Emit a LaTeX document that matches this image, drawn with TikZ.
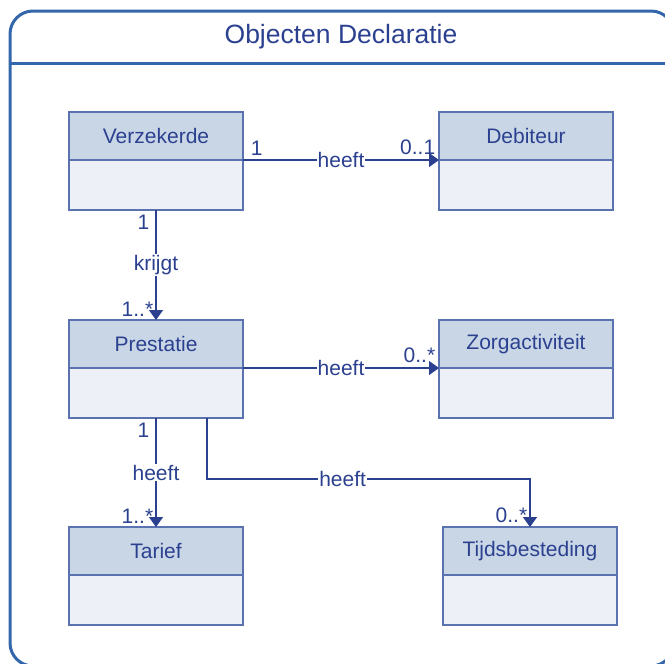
\documentclass[tikz,border=0pt]{standalone}
\usepackage{fontspec}
\setmainfont{Liberation Sans}
\usetikzlibrary{positioning,arrows.meta}
\definecolor{framecol}{HTML}{3366AA}
\definecolor{linecol}{HTML}{2B4190}
\definecolor{boxline}{HTML}{5B72B0}
\definecolor{headfill}{HTML}{C9D6E6}
\definecolor{bodyfill}{HTML}{EDF0F6}
\tikzset{
  classhead/.style={draw=boxline,fill=headfill,line width=1.2pt,rectangle,
    minimum width=174pt,minimum height=48pt,inner sep=0pt,outer sep=0pt,
    text=linecol,font=\fontsize{21}{24}\selectfont},
  classbody/.style={draw=boxline,fill=bodyfill,line width=1.2pt,rectangle,
    minimum width=174pt,minimum height=50pt,inner sep=0pt,outer sep=0pt},
  assoc/.style={draw=linecol,line width=1.6pt,-{Triangle[width=14pt,length=10pt]}},
  lbl/.style={text=linecol,font=\fontsize{21}{24}\selectfont,inner sep=1pt},
}
\begin{document}
\begin{tikzpicture}[x=1pt,y=-1pt]
        \useasboundingbox (0,0) rectangle (665,664);
        \clip (0,0) rectangle (665,664);
        % Frame and title
        \draw[framecol,line width=3pt,rounded corners=23pt] (10,11) rectangle (674,666);
        \draw[framecol,line width=3pt] (10,63) -- (674,63);
        \node[text=linecol,font=\fontsize{26.5}{30}\selectfont] (title) at (341,37) {Objecten Declaratie};
        % Define the nodes
        \node[classhead] (verz)  at (156,136) {Verzekerde};
        \node[classbody,below=0pt of verz] (verzB) {};
        \node[classhead] (deb)   at (526,136) {Debiteur};
        \node[classbody,below=0pt of deb] (debB) {};
        \node[classhead] (prest) at (156,344) {Prestatie};
        \node[classbody,below=0pt of prest] (prestB) {};
        \node[classhead] (zorg)  at (526,344) {Zorgactiviteit};
        \node[classbody,below=0pt of zorg] (zorgB) {};
        \node[classhead] (tar)   at (156,551) {Tarief};
        \node[classbody,below=0pt of tar] (tarB) {};
        \node[classhead] (tijd)  at (530,551) {Tijdsbesteding};
        \node[classbody,below=0pt of tijd] (tijdB) {};
        % Connect the nodes
        \draw[assoc] (verz.south east) -- (deb.south west)
            node[lbl,pos=0,above right=3pt and 6pt] {1}
            node[lbl,midway,fill=white] {heeft}
            node[lbl,pos=1,above left=3pt and 2pt] {0..1};
        \draw[assoc] (verzB.south) -- (prest.north)
            node[lbl,pos=0,below left=3pt and 5pt] {1}
            node[lbl,midway,fill=white] {krijgt}
            node[lbl,pos=1,above left=2pt and 1pt] {1..*};
        \draw[assoc] (prest.south east) -- (zorg.south west)
            node[lbl,midway,fill=white] {heeft}
            node[lbl,pos=1,above left=3pt and 2pt] {0..*};
        \draw[assoc] (prestB.south) -- (tar.north)
            node[lbl,pos=0,below left=3pt and 5pt] {1}
            node[lbl,midway,fill=white] {heeft}
            node[lbl,pos=1,above left=2pt and 1pt] {1..*};
        \draw[assoc] ([xshift=51pt]prestB.south) -- ++(0,61) -| (tijd.north)
            node[lbl,pos=0.21,fill=white] {heeft}
            node[lbl,pos=1,above left=2pt and 1pt] {0..*};
    \end{tikzpicture}
\end{document}
